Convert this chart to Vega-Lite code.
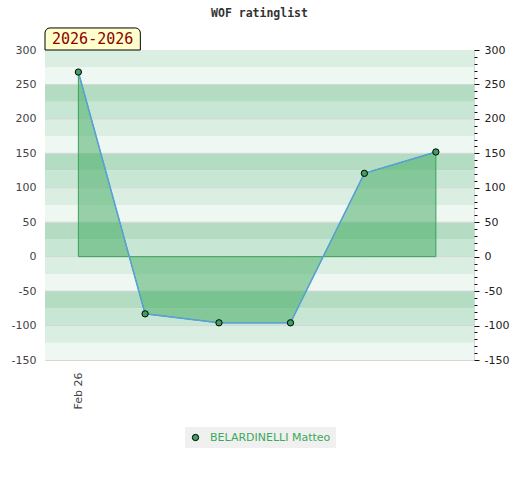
{
  "$schema": "https://vega.github.io/schema/vega-lite/v6.json",
  "width": 429,
  "height": 310,
  "padding": {"left": 11, "top": 7, "right": 5, "bottom": 5},
  "background": "white",
  "title": {"text": "WOF ratinglist", "font": "DejaVu Sans Mono", "fontSize": 11.5, "fontWeight": "bold", "color": "#333333", "anchor": "middle", "offset": 8},
  "config": {"view": {"stroke": "#d6d6d6"}, "axis": {"labelFont": "DejaVu Sans", "labelFontSize": 11}},
  "datasets": {
    "bands": [
      {"lo": -150, "hi": -125, "shade": "a"},
      {"lo": -125, "hi": -100, "shade": "b"},
      {"lo": -100, "hi": -75, "shade": "c"},
      {"lo": -75, "hi": -50, "shade": "d"},
      {"lo": -50, "hi": -25, "shade": "a"},
      {"lo": -25, "hi": 0, "shade": "b"},
      {"lo": 0, "hi": 25, "shade": "c"},
      {"lo": 25, "hi": 50, "shade": "d"},
      {"lo": 50, "hi": 75, "shade": "a"},
      {"lo": 75, "hi": 100, "shade": "b"},
      {"lo": 100, "hi": 125, "shade": "c"},
      {"lo": 125, "hi": 150, "shade": "d"},
      {"lo": 150, "hi": 175, "shade": "a"},
      {"lo": 175, "hi": 200, "shade": "b"},
      {"lo": 200, "hi": 225, "shade": "c"},
      {"lo": 225, "hi": 250, "shade": "d"},
      {"lo": 250, "hi": 275, "shade": "a"},
      {"lo": 275, "hi": 300, "shade": "b"}
    ],
    "ratings": [
      {"date": "2026-02-01", "rating": 268, "player": "BELARDINELLI Matteo"},
      {"date": "2026-03-01", "rating": -83, "player": "BELARDINELLI Matteo"},
      {"date": "2026-04-01", "rating": -96, "player": "BELARDINELLI Matteo"},
      {"date": "2026-05-01", "rating": -96, "player": "BELARDINELLI Matteo"},
      {"date": "2026-06-01", "rating": 121, "player": "BELARDINELLI Matteo"},
      {"date": "2026-07-01", "rating": 152, "player": "BELARDINELLI Matteo"}
    ],
    "season": [{"label": "2026-2026"}]
  },
  "resolve": {"scale": {"y": "shared"}, "axis": {"y": "independent"}},
  "layer": [
    {
      "data": {"name": "bands"},
      "mark": {"type": "rect"},
      "encoding": {
        "y": {"field": "lo", "type": "quantitative",
          "scale": {"domain": [-150, 300], "nice": false, "zero": false},
          "axis": {"orient": "left", "values": [-150, -100, -50, 0, 50, 100, 150, 200, 250, 300], "labelExpr": "datum.value < 0 ? '-' + abs(datum.value) : '' + datum.value", "grid": false, "ticks": false, "domain": false, "labelColor": "#444444", "labelPadding": 9, "title": null}},
        "y2": {"field": "hi"},
        "fill": {"field": "shade", "type": "nominal", "scale": {"domain": ["a", "b", "c", "d"], "range": ["#eff7f2", "#dbeee2", "#c8e6d4", "#b3dcc3"]}, "legend": null}
      }
    },
    {
      "data": {"name": "bands"},
      "transform": [{"filter": "datum.lo % 50 === 0 && datum.lo > -150"}],
      "mark": {"type": "rule", "color": "#d4d8d5", "strokeWidth": 1},
      "encoding": {
        "y": {"field": "lo", "type": "quantitative", "axis": null}
      }
    },
    {
      "data": {"name": "ratings"},
      "mark": {"type": "area", "fill": "#3fa95e", "fillOpacity": 0.5, "stroke": "#39a05a", "strokeWidth": 1},
      "encoding": {
        "x": {"field": "date", "type": "temporal",
          "scale": {"type": "utc", "domain": [{"year": 2026, "month": 1, "date": 18, "utc": true}, {"year": 2026, "month": 7, "date": 17, "utc": true}]},
          "axis": {"values": [{"year": 2026, "month": 2, "date": 1, "utc": true}], "labelExpr": "utcFormat(datum.value, '%b %y')", "labelAngle": 270, "ticks": false, "domain": false, "grid": false, "title": null, "labelColor": "#444444", "labelPadding": 12}},
        "y": {"field": "rating", "type": "quantitative", "axis": null},
        "y2": {"datum": 0}
      }
    },
    {
      "data": {"name": "ratings"},
      "mark": {"type": "line", "color": "#5aa0dc", "strokeWidth": 1.5},
      "encoding": {
        "x": {"field": "date", "type": "temporal"},
        "y": {"field": "rating", "type": "quantitative", "axis": null}
      }
    },
    {
      "data": {"name": "ratings"},
      "mark": {"type": "point", "filled": true, "size": 40, "stroke": "black", "strokeWidth": 1, "opacity": 1},
      "encoding": {
        "x": {"field": "date", "type": "temporal"},
        "y": {"field": "rating", "type": "quantitative",
          "axis": {"orient": "right", "values": [-150, -140, -130, -120, -110, -100, -90, -80, -70, -60, -50, -40, -30, -20, -10, 0, 10, 20, 30, 40, 50, 60, 70, 80, 90, 100, 110, 120, 130, 140, 150, 160, 170, 180, 190, 200, 210, 220, 230, 240, 250, 260, 270, 280, 290, 300],
            "labelExpr": "datum.value % 50 === 0 ? (datum.value < 0 ? '-' + abs(datum.value) : '' + datum.value) : ''", "labelOverlap": false,
            "tickSize": {"condition": {"test": "datum.value % 50 === 0", "value": 5}, "value": 3},
            "tickColor": "#111111", "domain": false, "grid": false, "title": null, "labelColor": "#222222", "labelPadding": 5}},
        "color": {"field": "player", "type": "nominal", "scale": {"range": ["#3d9f60"]},
          "legend": {"orient": "none", "legendX": 140, "legendY": 377, "fillColor": "#f0f0f0", "padding": 5, "title": null, "labelColor": "#3aaa5a", "labelFont": "DejaVu Sans", "labelFontSize": 11, "labelOffset": 9, "symbolType": "circle", "symbolSize": 40, "symbolStrokeColor": "black", "symbolStrokeWidth": 1, "symbolFillColor": "#3d9f60"}}
      }
    },
    {
      "data": {"name": "season"},
      "mark": {"type": "rect", "fill": "#ffffcc", "stroke": "black", "strokeWidth": 1, "cornerRadiusTopLeft": 5, "cornerRadiusTopRight": 5, "clip": false},
      "encoding": {
        "x": {"datum": {"year": 2026, "month": 1, "date": 18, "utc": true}, "type": "temporal"},
        "x2": {"datum": {"year": 2026, "month": 2, "date": 27, "utc": true}},
        "y": {"datum": 332, "type": "quantitative", "axis": null},
        "y2": {"datum": 300}
      }
    },
    {
      "data": {"name": "season"},
      "mark": {"type": "text", "font": "DejaVu Sans Mono", "fontSize": 15, "color": "#8b0000", "align": "center", "baseline": "middle", "clip": false},
      "encoding": {
        "x": {"datum": {"year": 2026, "month": 2, "date": 7, "utc": true}, "type": "temporal"},
        "y": {"datum": 316, "type": "quantitative", "axis": null},
        "text": {"field": "label"}
      }
    }
  ]
}
